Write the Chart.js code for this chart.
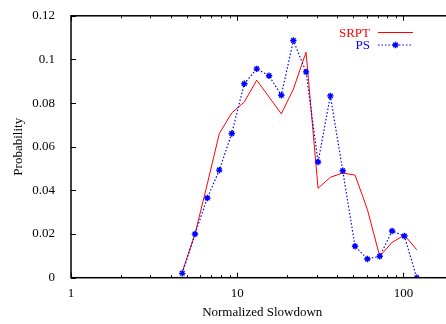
<!DOCTYPE html>
<html><head><meta charset="utf-8">
<script src="https://cdn.jsdelivr.net/npm/chart.js@4/dist/chart.umd.min.js"></script>
<style>html,body{margin:0;padding:0;overflow:hidden;background:#fff;width:446px;height:324px}canvas{display:block}</style>
</head><body>
<canvas id="c" width="470" height="324" style="width:470px;height:324px"></canvas>
<script>
// ---- data ----
const slowdown = [4.67,5.57,6.61,7.80,9.27,11.03,13.10,15.54,18.42,21.76,25.94,30.64,36.33,43.13,51.14,60.65,72.0,85.4,101.3,120.2];
const srpt = [0.0027,0.020,0.043,0.066,0.0755,0.0805,0.0905,0.0828,0.0751,0.0864,0.1033,0.041,0.046,0.048,0.047,0.0313,0.0098,0.0162,0.0195,0.0128];
const ps = [0.002,0.020,0.0365,0.0493,0.0661,0.0889,0.0957,0.0925,0.0836,0.1087,0.0943,0.053,0.0833,0.049,0.0144,0.0086,0.0098,0.0214,0.0191,0.0];
const xTickVals = [1,10,100];
const yTickVals = [0,0.02,0.04,0.06,0.08,0.10,0.12];
const yTickLabels = ['0','0.02','0.04','0.06','0.08','0.1','0.12'];
const seriesNames = ['SRPT','PS'];

const FONT = {family:'"Liberation Serif","Times New Roman",serif', size:13};

const framePlugin = {
  id:'frame',
  afterDraw(chart){
    const {ctx, chartArea:a, scales:{x, y}} = chart;
    ctx.save();
    ctx.strokeStyle = '#000';
    ctx.lineWidth = 1.5;
    ctx.strokeRect(a.left, a.top, a.right - a.left, a.bottom - a.top);
    ctx.lineWidth = 1;
    ctx.beginPath();
    xTickVals.forEach(v => {
      const px = Math.round(x.getPixelForValue(v)) + 0.5;
      ctx.moveTo(px, a.bottom); ctx.lineTo(px, a.bottom - 5);
      ctx.moveTo(px, a.top); ctx.lineTo(px, a.top + 5);
    });
    xTickVals.forEach(d => {
      for (let m = 2; m <= 9; m++) {
        const v = d * m;
        if (v > x.max) break;
        const px = Math.round(x.getPixelForValue(v)) + 0.5;
        ctx.moveTo(px, a.bottom); ctx.lineTo(px, a.bottom - 2.5);
        ctx.moveTo(px, a.top); ctx.lineTo(px, a.top + 2.5);
      }
    });
    yTickVals.forEach(v => {
      const py = Math.round(y.getPixelForValue(v)) + 0.5;
      ctx.moveTo(a.left, py); ctx.lineTo(a.left + 5, py);
      ctx.moveTo(a.right, py); ctx.lineTo(a.right - 5, py);
    });
    ctx.stroke();

    // legend (gnuplot style: right aligned text then sample)
    ctx.font = FONT.size + 'px ' + FONT.family;
    ctx.textAlign = 'right';
    ctx.textBaseline = 'middle';
    const textX = 370, lx0 = 378, lx1 = 413;
    const rows = [32.5, 45];
    chart.data.datasets.slice().sort((p,q)=>seriesNames.indexOf(p.label)-seriesNames.indexOf(q.label)).forEach((ds, i) => {
      const yy = rows[i];
      ctx.fillStyle = ds.borderColor;
      ctx.fillText(ds.label, textX, yy + 1);
      ctx.strokeStyle = ds.borderColor;
      ctx.lineWidth = ds.borderWidth;
      ctx.setLineDash(ds.borderDash || []);
      ctx.beginPath(); ctx.moveTo(lx0, yy); ctx.lineTo(lx1, yy); ctx.stroke();
      ctx.setLineDash([]);
      if (ds.pointRadius > 0) {
        const cx = (lx0 + lx1) / 2, r = ds.pointRadius;
        ctx.lineWidth = ds.pointBorderWidth;
        ctx.beginPath();
        ctx.moveTo(cx - r, yy); ctx.lineTo(cx + r, yy);
        ctx.moveTo(cx, yy - r); ctx.lineTo(cx, yy + r);
        const d = r * Math.SQRT1_2;
        ctx.moveTo(cx - d, yy - d); ctx.lineTo(cx + d, yy + d);
        ctx.moveTo(cx - d, yy + d); ctx.lineTo(cx + d, yy - d);
        ctx.stroke();
      }
    });
    ctx.restore();
  }
};

new Chart(document.getElementById('c'), {
  type: 'line',
  data: {
    datasets: [
      {
        label: seriesNames[0],
        data: slowdown.map((v, i) => ({x: v, y: srpt[i]})),
        borderColor: '#ff0000',
        borderWidth: 1,
        pointRadius: 0,
        tension: 0,
        order: 1
      },
      {
        label: seriesNames[1],
        data: slowdown.map((v, i) => ({x: v, y: ps[i]})),
        borderColor: '#0000ff',
        borderWidth: 1.2,
        borderDash: [1.5, 2],
        pointStyle: 'star',
        pointRadius: 3.2,
        pointBorderColor: '#0000ff',
        pointBackgroundColor: '#0000ff',
        pointBorderWidth: 1.4,
        tension: 0,
        order: 0
      }
    ]
  },
  options: {
    responsive: false,
    devicePixelRatio: 1,
    animation: false,
    layout: {padding: {left: 0, top: 10.5, right: 16.5, bottom: 0}},
    plugins: {legend: {display: false}, tooltip: {enabled: false}},
    scales: {
      x: {
        type: 'logarithmic',
        min: 1, max: 200,
        grid: {display: false},
        border: {display: false},
        afterBuildTicks: s => { s.ticks = xTickVals.map(v => ({value: v})); },
        afterFit: s => { s.height = 46.3; },
        ticks: {
          autoSkip: false, maxRotation: 0, padding: 0,
          color: '#000', font: FONT,
          callback: v => String(v)
        },
        title: {display: true, text: 'Normalized Slowdown', color: '#000', font: FONT, padding: {top: 0, bottom: 3.2}}
      },
      y: {
        min: 0, max: 0.12,
        grid: {display: false},
        border: {display: false},
        afterBuildTicks: s => { s.ticks = yTickVals.map(v => ({value: v})); },
        afterFit: s => { s.width = 71; },
        ticks: {
          padding: 8, color: '#000', font: FONT,
          callback: (v, i) => yTickLabels[i]
        },
        title: {display: true, text: 'Probability', color: '#000', font: FONT, padding: {top: 11.2, bottom: 0}}
      }
    }
  },
  plugins: [framePlugin]
});
</script>
</body></html>
